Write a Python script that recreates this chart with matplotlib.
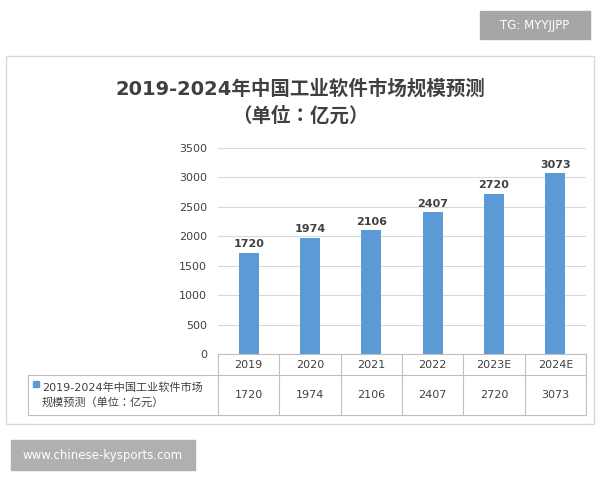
import matplotlib
matplotlib.use("Agg")
import matplotlib.pyplot as plt
from matplotlib import font_manager
from matplotlib.patches import Rectangle

cjk = sorted({f.name for f in font_manager.fontManager.ttflist
              if "CJK" in f.name and "Sans" in f.name})
cjk = [n for n in cjk if "SC" in n] + cjk
plt.rcParams["font.family"] = ["DejaVu Sans"] + cjk[:1]

years = ["2019", "2020", "2021", "2022", "2023E", "2024E"]
values = [1720, 1974, 2106, 2407, 2720, 3073]
yticks = [0, 500, 1000, 1500, 2000, 2500, 3000, 3500]
title = "2019-2024年中国工业软件市场规模预测\n（单位：亿元）"
series_name = "2019-2024年中国工业软件市场\n规模预测（单位：亿元）"
blue = "#5B9BD5"

W, H = 600, 480
fig = plt.figure(figsize=(W / 100, H / 100), dpi=100)

# full-figure overlay in pixel coords (y down)
bg = fig.add_axes([0, 0, 1, 1])
bg.set_xlim(0, W)
bg.set_ylim(H, 0)
bg.axis("off")
bg.add_patch(Rectangle((6, 56), 588, 368, fill=False, ec="#d9d9d9", lw=1))
bg.text(300, 102, title, ha="center", va="center", fontsize=14,
        fontweight="bold", color="#404040", linespacing=1.5)

x0, x1, y0, y1 = 218, 586, 354, 148
ax = fig.add_axes([x0 / W, 1 - y0 / H, (x1 - x0) / W, (y0 - y1) / H])
pos = list(range(len(years)))
ax.bar(pos, values, width=0.33, color=blue)
for p, v in zip(pos, values):
    ax.text(p, v + 60, str(v), ha="center", va="bottom", fontsize=8,
            fontweight="bold", color="#404040")
ax.set_xlim(-0.5, len(years) - 0.5)
ax.set_ylim(0, 3500)
ax.set_yticks(yticks)
ax.tick_params(axis="y", length=0, labelsize=8, labelcolor="#404040", pad=8)
ax.set_xticks([])
ax.grid(axis="y", color="#d9d9d9", lw=0.8)
ax.set_axisbelow(True)
for s in ["top", "right", "left"]:
    ax.spines[s].set_visible(False)
ax.spines["bottom"].set_color("#bfbfbf")

# data table
cw = (x1 - x0) / len(years)
lc = "#bfbfbf"
bg.plot([28, x1], [375, 375], color=lc, lw=0.8)
bg.plot([28, x1], [415, 415], color=lc, lw=0.8)
bg.plot([28, 28], [375, 415], color=lc, lw=0.8)
for i in range(len(years) + 1):
    bg.plot([x0 + i * cw] * 2, [354, 415], color=lc, lw=0.8)
for i, (yr, v) in enumerate(zip(years, values)):
    cx = x0 + (i + 0.5) * cw
    bg.text(cx, 365, yr, ha="center", va="center", fontsize=8, color="#404040")
    bg.text(cx, 395, str(v), ha="center", va="center", fontsize=8, color="#404040")
bg.add_patch(Rectangle((33, 381), 6, 6, color=blue))
bg.text(42, 395, series_name, ha="left", va="center", fontsize=8,
        color="#404040", linespacing=1.4)

# watermark boxes
bg.add_patch(Rectangle((480, 11), 110, 28, color="#a6a6a6"))
bg.text(535, 25, "TG: MYYJJPP", ha="center", va="center", fontsize=8.5,
        color="white")
bg.add_patch(Rectangle((11, 440), 184, 30, color="#b0b0b0"))
bg.text(103, 455, "www.chinese-kysports.com", ha="center", va="center",
        fontsize=8.5, color="white")

fig.savefig("out.png", dpi=100, facecolor="white")
